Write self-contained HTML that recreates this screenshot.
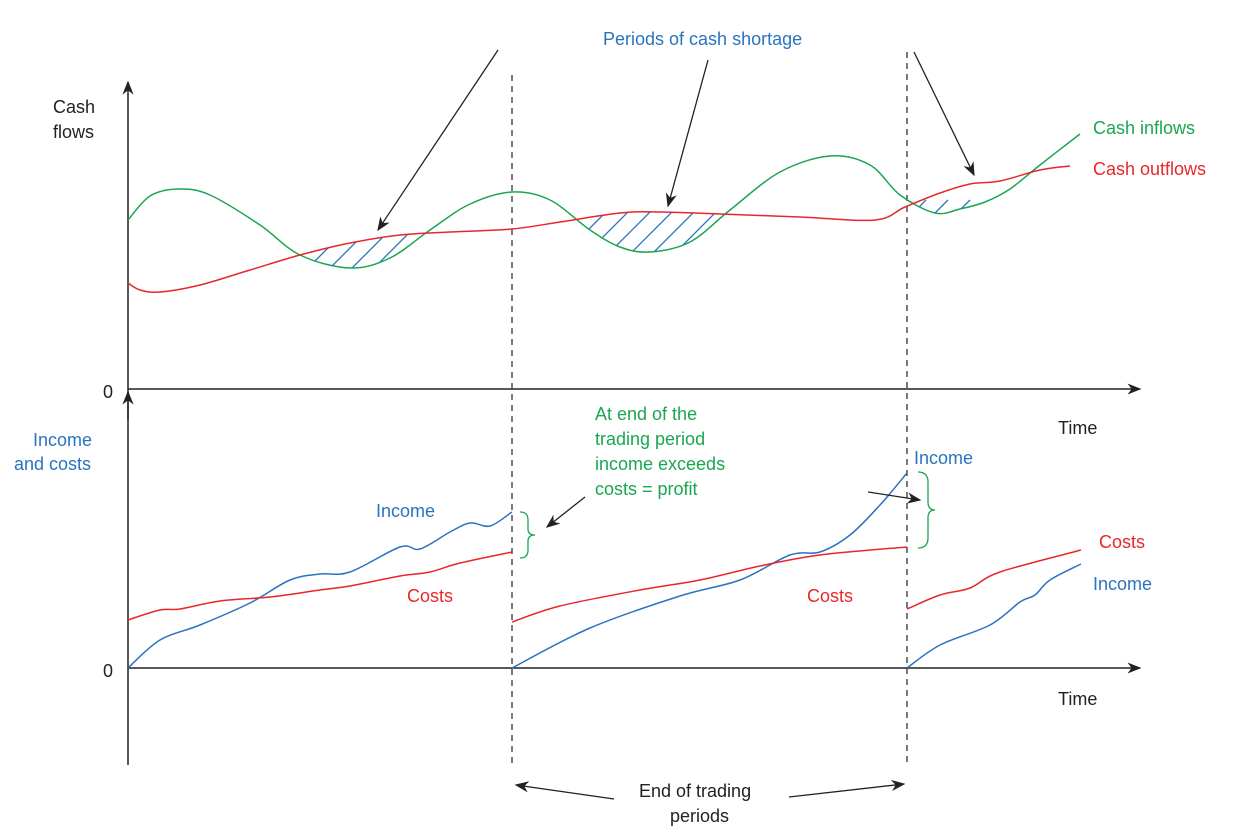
<!DOCTYPE html>
<html><head><meta charset="utf-8"><style>
html,body{margin:0;padding:0;background:#fff;}
svg{display:block;font-family:"Liberation Sans",sans-serif;}
text{font-size:18px;}
</style></head><body>
<svg id="chart" width="1246" height="836" viewBox="0 0 1246 836" xmlns="http://www.w3.org/2000/svg">
<defs>
<marker id="ahb" viewBox="0 0 10 10" refX="9" refY="5" markerWidth="14" markerHeight="14" markerUnits="userSpaceOnUse" orient="auto"><path d="M0,1 L10,5 L0,9 L3,5z" fill="#222"/></marker>
<clipPath id="belowRed"><path id="cpRed"/></clipPath>
<clipPath id="aboveGreen"><path id="cpGreen"/></clipPath>
</defs>
<g id="axes">
<line x1="128" y1="765" x2="128" y2="82" stroke="#222" stroke-width="1.5" marker-end="url(#ahb)"/>
<line x1="128" y1="420" x2="128" y2="392" stroke="#222" stroke-width="1.5" marker-end="url(#ahb)"/>
<line x1="128" y1="389" x2="1140" y2="389" stroke="#222" stroke-width="1.5" marker-end="url(#ahb)"/>
<line x1="128" y1="668" x2="1140" y2="668" stroke="#222" stroke-width="1.5" marker-end="url(#ahb)"/>
<line x1="512" y1="75" x2="512" y2="765" stroke="#333" stroke-width="1.3" stroke-dasharray="6,5"/>
<line x1="907" y1="52" x2="907" y2="765" stroke="#333" stroke-width="1.3" stroke-dasharray="6,5"/>
</g>
<g id="hatch" clip-path="url(#belowRed)"><g id="hatchInner" clip-path="url(#aboveGreen)"></g></g>
<g id="series"></g>
<g>
<text x="53" y="113" fill="#222">Cash</text>
<text x="53" y="138" fill="#222">flows</text>
<text x="103" y="398" fill="#222">0</text>
<text x="103" y="677" fill="#222">0</text>
<text x="1058" y="434" fill="#222">Time</text>
<text x="1058" y="705" fill="#222">Time</text>
<text x="33" y="446" fill="#2a73c0">Income</text>
<text x="14" y="470" fill="#2a73c0">and costs</text>
<text x="603" y="45" fill="#2a73c0">Periods of cash shortage</text>
<text x="1093" y="134" fill="#1aa650">Cash inflows</text>
<text x="1093" y="175" fill="#e8262c">Cash outflows</text>
<text x="376" y="517" fill="#2a73c0">Income</text>
<text x="407" y="602" fill="#e8262c">Costs</text>
<text x="807" y="602" fill="#e8262c">Costs</text>
<text x="914" y="464" fill="#2a73c0">Income</text>
<text x="1099" y="548" fill="#e8262c">Costs</text>
<text x="1093" y="590" fill="#2a73c0">Income</text>
<text fill="#1aa650"><tspan x="595" y="420">At end of the</tspan><tspan x="595" y="445">trading period</tspan><tspan x="595" y="470">income exceeds</tspan><tspan x="595" y="495">costs = profit</tspan></text>
<text fill="#222"><tspan x="639" y="797">End of trading</tspan><tspan x="670" y="822">periods</tspan></text>
</g>
<g stroke="#222" stroke-width="1.3" fill="none">
<line x1="498" y1="50" x2="378" y2="230" marker-end="url(#ahb)"/>
<line x1="708" y1="60" x2="668" y2="206" marker-end="url(#ahb)"/>
<line x1="914" y1="52" x2="974" y2="175" marker-end="url(#ahb)"/>
<line x1="585" y1="497" x2="547" y2="527" marker-end="url(#ahb)"/>
<line x1="868" y1="492" x2="920" y2="500" marker-end="url(#ahb)"/>
<line x1="614" y1="799" x2="516" y2="785" marker-end="url(#ahb)"/>
<line x1="789" y1="797" x2="904" y2="784" marker-end="url(#ahb)"/>
<path stroke="#1aa650" d="M520,512 q8,0 8,8 v9 q0,6 7,6 q-7,0 -7,6 v9 q0,8 -8,8"/>
<path stroke="#1aa650" d="M918,472 q10,0 10,10 v20 q0,8 7,8 q-7,0 -7,8 v20 q0,10 -10,10"/>
</g>
</svg>
<script>
// Top chart: time (0..1000) vs cash flow value
const inflowT=[0,22,50,82,132,172,222,262,302,342,384,422,462,492,522,562,602,652,702,742,772,807,832,857,882,912,952];
const inflowV=[169,193,200,194,164,134,121,131,159,185,197,189,159,142,137,147,179,217,233,224,194,176,180,187,200,224,255];
const outflowT=[0,12,32,72,122,172,222,272,322,384,432,492,532,592,672,747,777,812,842,872,912,942];
const outflowV=[106,99,97,104,119,134,146,154,157,160,167,176,177,175,172,169,182,196,205,208,219,223];
// Bottom chart: three trading periods
const incomeT=[[0,32,72,122,162,192,222,272,292,322,342,362,384],[384,462,552,612,662,692,722,752,779],[779,812,862,892,907,922,953]];
const incomeV=[[0,28,43,65,88,94,96,121,119,136,145,142,156],[0,40,72,88,113,116,133,163,195],[0,23,43,66,73,88,104]];
const costsT=[[0,32,52,92,142,192,222,272,302,332,384],[384,432,512,572,632,692,779],[779,812,842,872,953]];
const costsV=[[48,58,59,67,71,78,82,92,96,105,116],[46,62,78,88,102,113,121],[59,73,80,96,118]];

const X=t=>128+t;
const YT=v=>389-v;
const YB=v=>668-v;
function smooth(pts){
  let d=`M${pts[0][0]},${pts[0][1]}`;
  for(let i=0;i<pts.length-1;i++){
    const p0=pts[i-1]||pts[i],p1=pts[i],p2=pts[i+1],p3=pts[i+2]||p2;
    const c1=[p1[0]+(p2[0]-p0[0])/6,p1[1]+(p2[1]-p0[1])/6];
    const c2=[p2[0]-(p3[0]-p1[0])/6,p2[1]-(p3[1]-p1[1])/6];
    d+=` C${c1[0].toFixed(1)},${c1[1].toFixed(1)} ${c2[0].toFixed(1)},${c2[1].toFixed(1)} ${p2[0].toFixed(1)},${p2[1].toFixed(1)}`;
  }
  return d;
}
const NS='http://www.w3.org/2000/svg';
const g=document.getElementById('series');
function addPath(d,color,name){
  const p=document.createElementNS(NS,'path');
  p.setAttribute('d',d);p.setAttribute('fill','none');p.setAttribute('stroke',color);p.setAttribute('stroke-width','1.5');
  
  
  g.appendChild(p);
}
const inPts=inflowT.map((t,i)=>[X(t),YT(inflowV[i])]);
const outPts=outflowT.map((t,i)=>[X(t),YT(outflowV[i])]);
const dIn=smooth(inPts),dOut=smooth(outPts);
addPath(dIn,'#1aa650','cash-inflows-line');
addPath(dOut,'#e8262c','cash-outflows-line');
const lastOut=outPts[outPts.length-1],lastIn=inPts[inPts.length-1];
document.getElementById('cpRed').setAttribute('d',dOut+` L1200,${lastOut[1]} L1200,400 L${outPts[0][0]},400 Z`);
document.getElementById('cpGreen').setAttribute('d',dIn+` L1200,${lastIn[1]} L1200,0 L${inPts[0][0]},0 Z`);
const hi=document.getElementById('hatchInner');
for(let x=100;x<1300;x+=22){
  const l=document.createElementNS(NS,'line');
  l.setAttribute('x1',x);l.setAttribute('y1',300);l.setAttribute('x2',x+100);l.setAttribute('y2',200);
  l.setAttribute('stroke','#2a73c0');l.setAttribute('stroke-width','1.3');
  
  
  hi.appendChild(l);
}
for(let s=0;s<3;s++){
  addPath(smooth(incomeT[s].map((t,i)=>[X(t),YB(incomeV[s][i])])),'#2a73c0','income-line-period-'+(s+1));
  addPath(smooth(costsT[s].map((t,i)=>[X(t),YB(costsV[s][i])])),'#e8262c','costs-line-period-'+(s+1));
}
</script>
</body></html>
